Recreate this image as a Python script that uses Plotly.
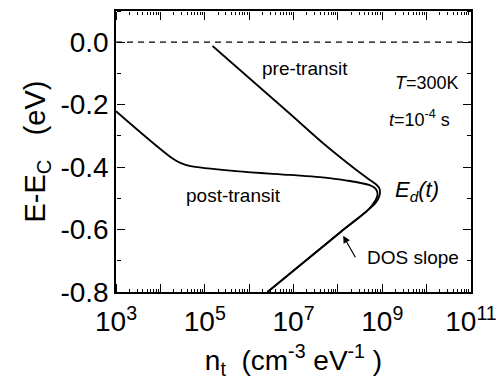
import plotly.graph_objects as go

# Pre-transit trap distribution (x: n_t in cm^-3 eV^-1, y: E-Ec in eV)
pre_x = [1.5e5, 8.3e6, 4.8e7, 2.4e8, 4.8e8, 7.2e8, 8.5e8, 8.9e8, 8.6e8, 7.2e8, 4.8e8, 1.1e8, 2.6e6]
pre_y = [-0.012, -0.229, -0.325, -0.405, -0.437, -0.455, -0.466, -0.478, -0.493, -0.513, -0.537, -0.61, -0.80]

# Post-transit trap distribution
post_x = [1e3, 2.0e4, 3.0e4, 4.5e4, 5.0e5, 8.3e6, 3.9e7, 1.6e8, 5.2e8, 6.8e8, 7.6e8, 7.8e8, 7.0e8, 4.8e8, 1.1e8, 2.6e6]
post_y = [-0.221, -0.375, -0.388, -0.396, -0.413, -0.425, -0.432, -0.443, -0.458, -0.467, -0.477, -0.490, -0.507, -0.537, -0.61, -0.80]

# Conduction band edge reference
ref_x = [1e3, 1e11]
ref_y = [0.0, 0.0]

x_tickvals = [1e3, 1e4, 1e5, 1e6, 1e7, 1e8, 1e9, 1e10, 1e11]
x_ticktext = ["10<sup>3</sup>", "", "10<sup>5</sup>", "", "10<sup>7</sup>", "", "10<sup>9</sup>", "", "10<sup>11</sup>"]
x_minor = [m * 10 ** e for e in range(3, 11) for m in range(2, 10)]
y_tickvals = [0.0, -0.2, -0.4, -0.6, -0.8]
y_ticktext = ["0.0", "-0.2", "-0.4", "-0.6", "-0.8"]
y_minor = [0.1, -0.1, -0.3, -0.5, -0.7]

FONT = "Arial, Liberation Sans, sans-serif"
XR = [3, 11]
YR = [-0.8, 0.1]

fig = go.Figure()
fig.add_trace(go.Scatter(x=ref_x, y=ref_y, mode="lines",
                         line=dict(color="black", width=1.3, dash="6px,5px"), showlegend=False))
fig.add_trace(go.Scatter(x=pre_x, y=pre_y, mode="lines", line_shape="spline",
                         line=dict(color="black", width=1.8), showlegend=False))
fig.add_trace(go.Scatter(x=post_x, y=post_y, mode="lines", line_shape="spline",
                         line=dict(color="black", width=1.8), showlegend=False))

ann = dict(showarrow=False, font=dict(family=FONT, size=19, color="black"))
small = dict(showarrow=False, font=dict(family=FONT, size=18, color="black"))
fig.add_annotation(x=7.26, y=-0.083, text="pre-transit", **ann)
fig.add_annotation(x=5.64, y=-0.49, text="post-transit", **ann)
fig.add_annotation(x=9.69, y=-0.69, text="DOS slope", **ann)
fig.add_annotation(x=10.0, y=-0.13, text="<i>T</i>=300K", **small)
fig.add_annotation(x=9.85, y=-0.245, text="<i>t</i>=10<sup>-4</sup> s", **small)
fig.add_annotation(x=9.25, y=-0.475, text="<i>E<sub>d</sub>(t)</i>", xanchor="left",
                   showarrow=False, font=dict(family=FONT, size=22, color="black"))
fig.add_annotation(x=8.12, y=-0.62, text="", showarrow=True, arrowhead=2, arrowsize=1.2,
                   arrowwidth=1.2, arrowcolor="black", ax=13, ay=23)

layout = dict(
    width=496, height=390, margin=dict(l=116, r=25, t=11, b=98),
    paper_bgcolor="white", plot_bgcolor="rgba(0,0,0,0)",
    xaxis=dict(type="log", range=XR, tickmode="array", tickvals=x_tickvals, ticktext=x_ticktext,
               ticks="", showline=True, linecolor="black", linewidth=1.5, mirror=True,
               showgrid=False, zeroline=False, ticklabelstandoff=4, ticklabeloverflow="allow",
               automargin=False,
               tickfont=dict(family=FONT, size=28, color="black"),
               title=dict(text="n<sub>t</sub>  (cm<sup>-3</sup> eV<sup>-1</sup> )",
                          font=dict(family=FONT, size=28, color="black"), standoff=14)),
    yaxis=dict(range=YR, tickmode="array", tickvals=y_tickvals, ticktext=y_ticktext,
               ticks="", showline=True, linecolor="black", linewidth=1.5, mirror=True,
               showgrid=False, zeroline=False, automargin=False,
               tickfont=dict(family=FONT, size=28, color="black"),
               title=dict(text="E-E<sub>C</sub>   (eV)",
                          font=dict(family=FONT, size=29, color="black"), standoff=6)),
)

# Inward-pointing tick marks: overlay axes placed on the opposite edge with outside ticks
tick_axes = [
    # (name, kind, side, position, tickvals, ticklen, tickwidth)
    ("3", "x", "top", 0, x_tickvals, 8, 1.3),
    ("4", "x", "bottom", 1, x_tickvals, 8, 1.3),
    ("5", "x", "top", 0, x_minor, 3, 1.0),
    ("6", "x", "bottom", 1, x_minor, 3, 1.0),
    ("3", "y", "right", 0, y_tickvals, 8, 1.3),
    ("4", "y", "left", 1, y_tickvals, 8, 1.3),
    ("5", "y", "right", 0, y_minor, 4, 1.0),
    ("6", "y", "left", 1, y_minor, 4, 1.0),
]
for name, kind, side, pos, vals, tlen, tw in tick_axes:
    ax = dict(overlaying=kind, anchor="free", position=pos, side=side,
              tickmode="array", tickvals=vals, showticklabels=False,
              ticks="outside", ticklen=tlen, tickwidth=tw, tickcolor="black",
              showline=False, showgrid=False, zeroline=False, automargin=False)
    if kind == "x":
        ax.update(type="log", range=XR)
        layout["xaxis" + name] = ax
    else:
        ax.update(range=YR)
        layout["yaxis" + name] = ax

for name in ["3", "4", "5", "6"]:
    fig.add_trace(go.Scatter(x=ref_x, y=ref_y, xaxis="x" + name, yaxis="y" + name, mode="lines",
                             line=dict(width=0, color="rgba(0,0,0,0)"), hoverinfo="skip",
                             showlegend=False))

fig.update_layout(**layout)
fig.write_html("out.html")
